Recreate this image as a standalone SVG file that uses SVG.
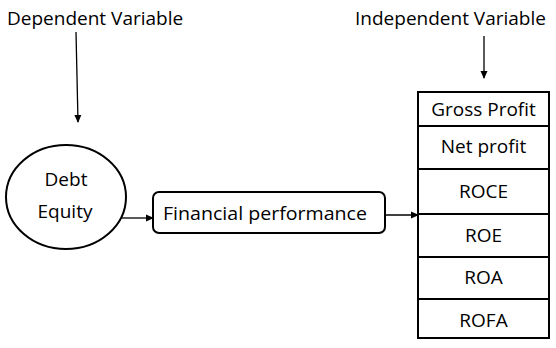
<svg xmlns="http://www.w3.org/2000/svg" width="556" height="348" viewBox="0 0 556 348">
<defs>
<marker id="ah" markerWidth="8" markerHeight="8" refX="7" refY="4" orient="auto" markerUnits="userSpaceOnUse"><path d="M0,0.5 L8,4 L0,7.5 Z" fill="#000"/></marker>
<style>
text{font-family:"Open Sans","Liberation Sans",sans-serif;font-size:19px;fill:#000}
.c{text-anchor:middle}
.s{fill:#fff;stroke:#000;stroke-width:2}
.l{stroke:#000;stroke-width:1.3;fill:none;marker-end:url(#ah)}
</style>
</defs>
<rect width="556" height="348" fill="#fff"/>
<g id="dep-label"><text x="7" y="25">Dependent Variable</text></g>
<g id="indep-label"><text x="355" y="25">Independent Variable</text></g>
<g id="debt-equity">
<ellipse class="s" cx="66" cy="197" rx="60" ry="52"/>
<text class="c" x="66" y="186">Debt</text>
<text class="c" x="65" y="218">Equity</text>
</g>
<g id="financial-performance">
<rect class="s" x="153" y="192" width="232" height="41" rx="6"/>
<text x="163" y="220" textLength="204" lengthAdjust="spacingAndGlyphs">Financial performance</text>
</g>
<g id="measures">
<rect class="s" x="418" y="92" width="131" height="246"/>
<path d="M418,126H549M418,169H549M418,214H549M418,257H549M418,299H549" stroke="#000" stroke-width="2"/>
<text class="c" x="483.5" y="116">Gross Profit</text>
<text class="c" x="483.5" y="153">Net profit</text>
<text class="c" x="483.5" y="198">ROCE</text>
<text class="c" x="483.5" y="242">ROE</text>
<text class="c" x="483.5" y="284">ROA</text>
<text class="c" x="483.5" y="327">ROFA</text>
</g>
<g id="connectors">
<path class="l" d="M76,32 L78,122"/>
<path class="l" d="M484,36 L484,78"/>
<path class="l" d="M122,218 L153,218"/>
<path class="l" d="M385,215 L418,215"/>
</g>
</svg>
